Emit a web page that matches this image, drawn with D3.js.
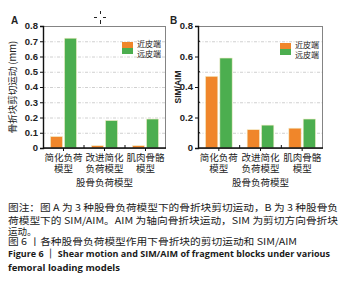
<!DOCTYPE html>
<html lang="zh-CN">
<head>
<meta charset="UTF-8">
<title>Figure 6</title>
<script src="https://cdn.jsdelivr.net/npm/d3@7"></script>
<style>
    body{ margin:0; background:#fff; }
    .cjk{ font-family:"Noto Sans CJK SC",sans-serif; }
    .num{ font-family:"Liberation Sans",Arial,sans-serif; }
</style>
</head>
<body>
<div id="root"></div>
<script>
    // data
    let categories = [["简化负荷","模型"],["改进简化","负荷模型"],["肌肉骨骼","模型"]]
    let series = ["近皮端","远皮端"]
    let shearNear = [0.075,0.015,0.015]
    let shearFar = [0.72,0.18,0.19]
    let ratioNear = [0.47,0.12,0.13]
    let ratioFar = [0.59,0.15,0.19]
    let ticksA = [0,0.1,0.2,0.3,0.4,0.5,0.6,0.7,0.8]
    let ticksB = [0,0.2,0.4,0.6,0.8]
    let gridB = [0.1,0.3,0.5,0.7]
    let colors = ["#f0862a","#4cae4f"]
    let captionLines = [
        "图注：图 A 为 3 种股骨负荷模型下的骨折块剪切运动，B 为 3 种股骨负",
        "荷模型下的 SIM/AIM。AIM 为轴向骨折块运动，SIM 为剪切方向骨折块",
        "运动。",
        "图 6 丨各种股骨负荷模型作用下骨折块的剪切运动和 SIM/AIM"
    ]
    let captionEn = ["Figure 6  ｜ Shear motion and SIM/AIM of fragment blocks under various","femoral loading models"]

    let width = 360, height = 304, plotTop = 26, plotBottom = 148
    let svg = d3.select("#root").append("svg").attr("width",width).attr("height",height)
    let yScale = d3.scaleLinear().domain([0,0.8]).range([plotBottom,plotTop])
    let fmt = d=>d===0?"0":d3.format(".1f")(d)

    let panels = [
        {left:43,right:166,near:shearNear,far:shearFar,ticks:ticksA,grid:ticksA.slice(1,8),
         title:"骨折块剪切运动 (mm)",titleCjk:true,titleX:16,titleSize:9.5,letter:"A",letterX:11,
         legendX:122,legendY:42},
        {left:198,right:323,near:ratioNear,far:ratioFar,ticks:ticksB,grid:gridB,minor:gridB,
         title:"SIM/AIM",titleCjk:false,titleX:181,titleSize:8.5,letter:"B",letterX:170,
         legendX:280,legendY:43}
    ]

    function panel(opt){
        let g = svg.append("g")
        let y = yScale
        let x0 = d3.scaleBand().domain(d3.range(categories.length)).range([opt.left,opt.right])
        let x1 = d3.scaleBand().domain(series).range([7.5,x0.bandwidth()-7.5]).paddingInner(0.143)

        // grid
        g.selectAll(".grid").data(opt.grid).enter().append("line")
            .attr("x1",opt.left).attr("x2",opt.right)
            .attr("y1",d=>y(d)+0.5).attr("y2",d=>y(d)+0.5)
            .attr("stroke","#c4c4c4").attr("stroke-width",0.8).attr("stroke-dasharray","3,1.5,1,1.5")

        // bars
        let data = []
        categories.forEach((c,i)=>{
            data.push({i:i,s:series[0],v:opt.near[i]})
            data.push({i:i,s:series[1],v:opt.far[i]})
        })
        g.selectAll(".bar").data(data).enter().append("rect")
            .attr("x",d=>x0(d.i)+x1(d.s))
            .attr("y",d=>y(d.v))
            .attr("width",x1.bandwidth())
            .attr("height",d=>y(0)-y(d.v))
            .attr("fill",d=>colors[series.indexOf(d.s)])
            .attr("stroke","#f3eec8").attr("stroke-width",0.6)

        // frame
        g.append("rect").attr("x",opt.left+0.5).attr("y",plotTop+0.5)
            .attr("width",opt.right-opt.left-1).attr("height",plotBottom-plotTop)
            .attr("fill","none").attr("stroke","#666").attr("stroke-width",0.8)

        // x axis
        let xa = g.append("g").attr("transform","translate(0,"+plotBottom+")")
        xa.append("line").attr("x1",opt.left).attr("x2",opt.right).attr("stroke","#111").attr("stroke-width",1.4)
        categories.forEach((c,i)=>{
            let cx = x0(i)+x0.bandwidth()/2
            xa.append("line").attr("x1",cx).attr("x2",cx).attr("y1",0).attr("y2",3).attr("stroke","#111")
            if(i>0) xa.append("line").attr("x1",x0(i)).attr("x2",x0(i)).attr("y1",0).attr("y2",-3).attr("stroke","#111")
            c.forEach((t,j)=>{
                xa.append("text").attr("class","cjk").attr("x",cx).attr("y",13+j*11)
                    .attr("text-anchor","middle").attr("font-size",9.5).attr("fill","#222").text(t)
            })
        })
        g.append("text").attr("class","cjk").attr("x",(opt.left+opt.right)/2).attr("y",186)
            .attr("text-anchor","middle").attr("font-size",9.5).attr("fill","#222").text("股骨负荷模型")

        // y title
        g.append("text").attr("class",opt.titleCjk?"cjk":"num")
            .attr("transform","translate("+opt.titleX+","+(plotTop+plotBottom)/2+") rotate(-90)")
            .attr("text-anchor","middle").attr("font-size",opt.titleSize).attr("fill","#222")
            .attr("font-weight",opt.titleCjk?"normal":"bold").text(opt.title)

        // panel letter
        g.append("text").attr("class","num").attr("x",opt.letterX).attr("y",24).attr("font-size",10).attr("font-weight","bold")
            .attr("fill","#222").text(opt.letter)

        // legend
        let lg = g.append("g").attr("transform","translate("+opt.legendX+","+opt.legendY+")")
        series.forEach((s,i)=>{
            lg.append("rect").attr("x",0).attr("y",i*6).attr("width",11).attr("height",6).attr("fill",colors[i])
            lg.append("text").attr("class","cjk").attr("x",15).attr("y",i*10+5).attr("font-size",8)
                .attr("fill","#222").text(s)
        })
    }

    panels.forEach(panel)

    // cursor artefact
    let cur = svg.append("g").attr("stroke","#222").attr("stroke-width",1)
    cur.append("line").attr("x1",94).attr("x2",97).attr("y1",17.5).attr("y2",17.5)
    cur.append("line").attr("x1",103).attr("x2",106).attr("y1",17.5).attr("y2",17.5)
    cur.append("line").attr("x1",100.5).attr("x2",100.5).attr("y1",11).attr("y2",14)
    cur.append("line").attr("x1",100.5).attr("x2",100.5).attr("y1",20).attr("y2",24)

    // caption
    let capY = [211,224,235,245]
    let capW = [330,330,null,289]
    captionLines.forEach((t,i)=>{
        let tx = svg.append("text").attr("class","cjk").attr("x",8).attr("y",capY[i])
            .attr("font-size",9.5).attr("fill","#1a1a1a").text(t)
        if(capW[i]) tx.attr("textLength",capW[i]).attr("lengthAdjust","spacingAndGlyphs")
    })
    let enY = [257,271]
    let enW = [322,null]
    captionEn.forEach((t,i)=>{
        let tx = svg.append("text").attr("x",8).attr("y",enY[i]).attr("font-size",9.5)
            .attr("font-weight","bold").attr("fill","#1a1a1a")
            .attr("font-family","Open Sans, Liberation Sans, sans-serif").text(t)
        if(enW[i]) tx.attr("textLength",enW[i]).attr("lengthAdjust","spacingAndGlyphs")
    })

    // y axes (lines from d3.axisLeft, labels placed with the same scale)
    panels.forEach(opt=>{
        let ya = d3.axisLeft(yScale).tickValues(opt.ticks).tickSize(3).tickFormat("")
        let yg = svg.append("g").attr("transform","translate("+opt.left+",0)").call(ya)
        yg.select(".domain").attr("stroke","#111").attr("stroke-width",1.4)
        yg.selectAll(".tick line").attr("stroke","#111")
        if(opt.minor){
            yg.selectAll(".minor").data(opt.minor).enter().append("line").attr("class","minor")
                .attr("x1",0).attr("x2",2)
                .attr("y1",d=>yScale(d)).attr("y2",d=>yScale(d)).attr("stroke","#111")
        }
        svg.selectAll(null).data(opt.ticks).enter().append("text")
            .attr("class","num")
            .attr("x",opt.left-5).attr("y",d=>yScale(d)).attr("dy","0.35em")
            .attr("text-anchor","end").attr("font-size",9.5).attr("font-weight","bold").attr("fill","#222")
            .text(fmt)
    })
</script>
</body>
</html>
